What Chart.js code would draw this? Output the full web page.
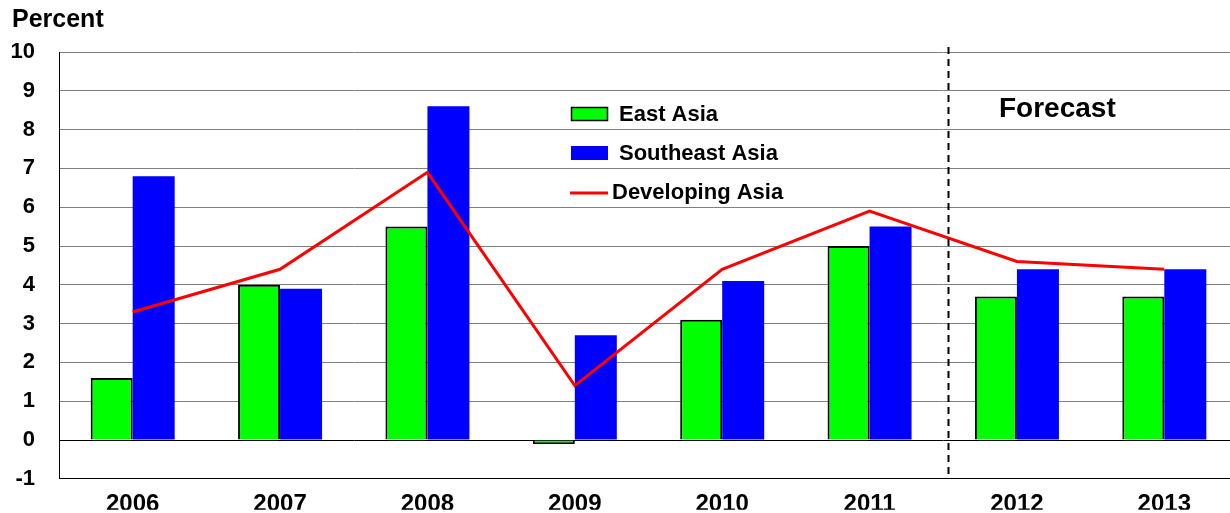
<!DOCTYPE html>
<html>
<head>
<meta charset="utf-8">
<script src="https://cdn.jsdelivr.net/npm/chart.js@4.4.1/dist/chart.umd.min.js"></script>
<style>
  html, body { margin: 0; padding: 0; background: #fff; overflow: hidden; }
  canvas { display: block; }
</style>
</head>
<body>
<canvas id="growthChart" width="1238" height="516"></canvas>
<script>
// growth by year, percent
const years = ['2006', '2007', '2008', '2009', '2010', '2011', '2012', '2013'];
const eastAsia = [1.6, 4.0, 5.5, -0.1, 3.1, 5.0, 3.7, 3.7];
const southeastAsia = [6.8, 3.9, 8.6, 2.7, 4.1, 5.5, 4.4, 4.4];
const developingAsia = [3.3, 4.4, 6.9, 1.4, 4.4, 5.9, 4.6, 4.4];
const yTicks = [-1, 0, 1, 2, 3, 4, 5, 6, 7, 8, 9, 10];

const FONT = '"Liberation Sans", Arial, sans-serif';

// dashed forecast divider, in-plot legend and titles
const overlay = {
    id: 'overlay',
    afterDatasetsDraw(chart) {
        const c = chart.ctx;
        const x = chart.scales.x;
        const area = chart.chartArea;

        // divider sits just past the 2011/2012 boundary
        const p5 = x.getPixelForValue(5);
        const p6 = x.getPixelForValue(6);
        const dx = Math.round(p5 + 0.53 * (p6 - p5)) + 0.5;
        c.save();
        c.strokeStyle = '#000';
        c.lineWidth = 2;
        c.setLineDash([7, 5]);
        c.beginPath();
        c.moveTo(dx, area.top - 5);
        c.lineTo(dx, area.bottom);
        c.stroke();
        c.restore();
    },
    afterDraw(chart) {
        const c = chart.ctx;
        c.save();
        c.fillStyle = '#000';
        c.textBaseline = 'alphabetic';

        c.font = 'bold 25px ' + FONT;
        c.fillText('Percent', 12, 27);

        c.font = 'bold 28px ' + FONT;
        c.fillText('Forecast', 999, 117);

        // legend
        c.font = 'bold 22px ' + FONT;
        c.fillStyle = '#00ff00';
        c.fillRect(571, 107, 37, 14);
        c.strokeStyle = '#000';
        c.lineWidth = 1.5;
        c.strokeRect(571.5, 107.5, 36, 13);
        c.fillStyle = '#000';
        c.fillText('East Asia', 619, 121);

        c.fillStyle = '#0000ff';
        c.fillRect(571, 146, 37, 14);
        c.fillStyle = '#000';
        c.fillText('Southeast Asia', 619, 160);

        c.strokeStyle = '#ff0000';
        c.lineWidth = 3;
        c.beginPath();
        c.moveTo(570, 193);
        c.lineTo(608, 193);
        c.stroke();
        c.fillStyle = '#000';
        c.fillText('Developing Asia', 612, 199);
        c.restore();
    }
};

new Chart(document.getElementById('growthChart'), {
    data: {
        labels: years,
        datasets: [
            {
                type: 'line',
                label: 'Developing Asia',
                data: developingAsia,
                borderColor: '#ff0000',
                borderWidth: 3,
                pointRadius: 0,
                tension: 0,
                fill: false,
                order: 0
            },
            {
                type: 'bar',
                label: 'East Asia',
                data: eastAsia,
                backgroundColor: '#00ff00',
                borderColor: '#000',
                borderWidth: 2,
                categoryPercentage: 0.57,
                barPercentage: 1,
                order: 1
            },
            {
                type: 'bar',
                label: 'Southeast Asia',
                data: southeastAsia,
                backgroundColor: '#0000ff',
                borderWidth: 0,
                categoryPercentage: 0.57,
                barPercentage: 1,
                order: 1
            }
        ]
    },
    options: {
        responsive: false,
        animation: false,
        layout: { padding: { top: 52, left: 0, right: 0, bottom: 0 } },
        plugins: {
            legend: { display: false },
            tooltip: { enabled: false }
        },
        scales: {
            x: {
                offset: true,
                grid: { display: false },
                border: { display: true, color: '#000', width: 1 },
                ticks: {
                    color: '#000',
                    padding: 3,
                    font: { family: FONT, size: 24, weight: 'bold' }
                },
                afterFit(scale) { scale.height = 31; }
            },
            y: {
                min: -1,
                max: 10,
                afterBuildTicks(scale) {
                    scale.ticks = yTicks.map(v => ({ value: v }));
                },
                grid: {
                    drawTicks: false,
                    color: ctx => (ctx.tick.value === 0 || ctx.tick.value === -1) ? '#000' : '#808080',
                    lineWidth: 1
                },
                border: { display: true, color: '#000', width: 1 },
                ticks: {
                    color: '#000',
                    padding: 24,
                    font: { family: FONT, size: 22, weight: 'bold' }
                },
                afterFit(scale) { scale.width = 59; }
            }
        }
    },
    plugins: [overlay]
});
</script>
</body>
</html>
